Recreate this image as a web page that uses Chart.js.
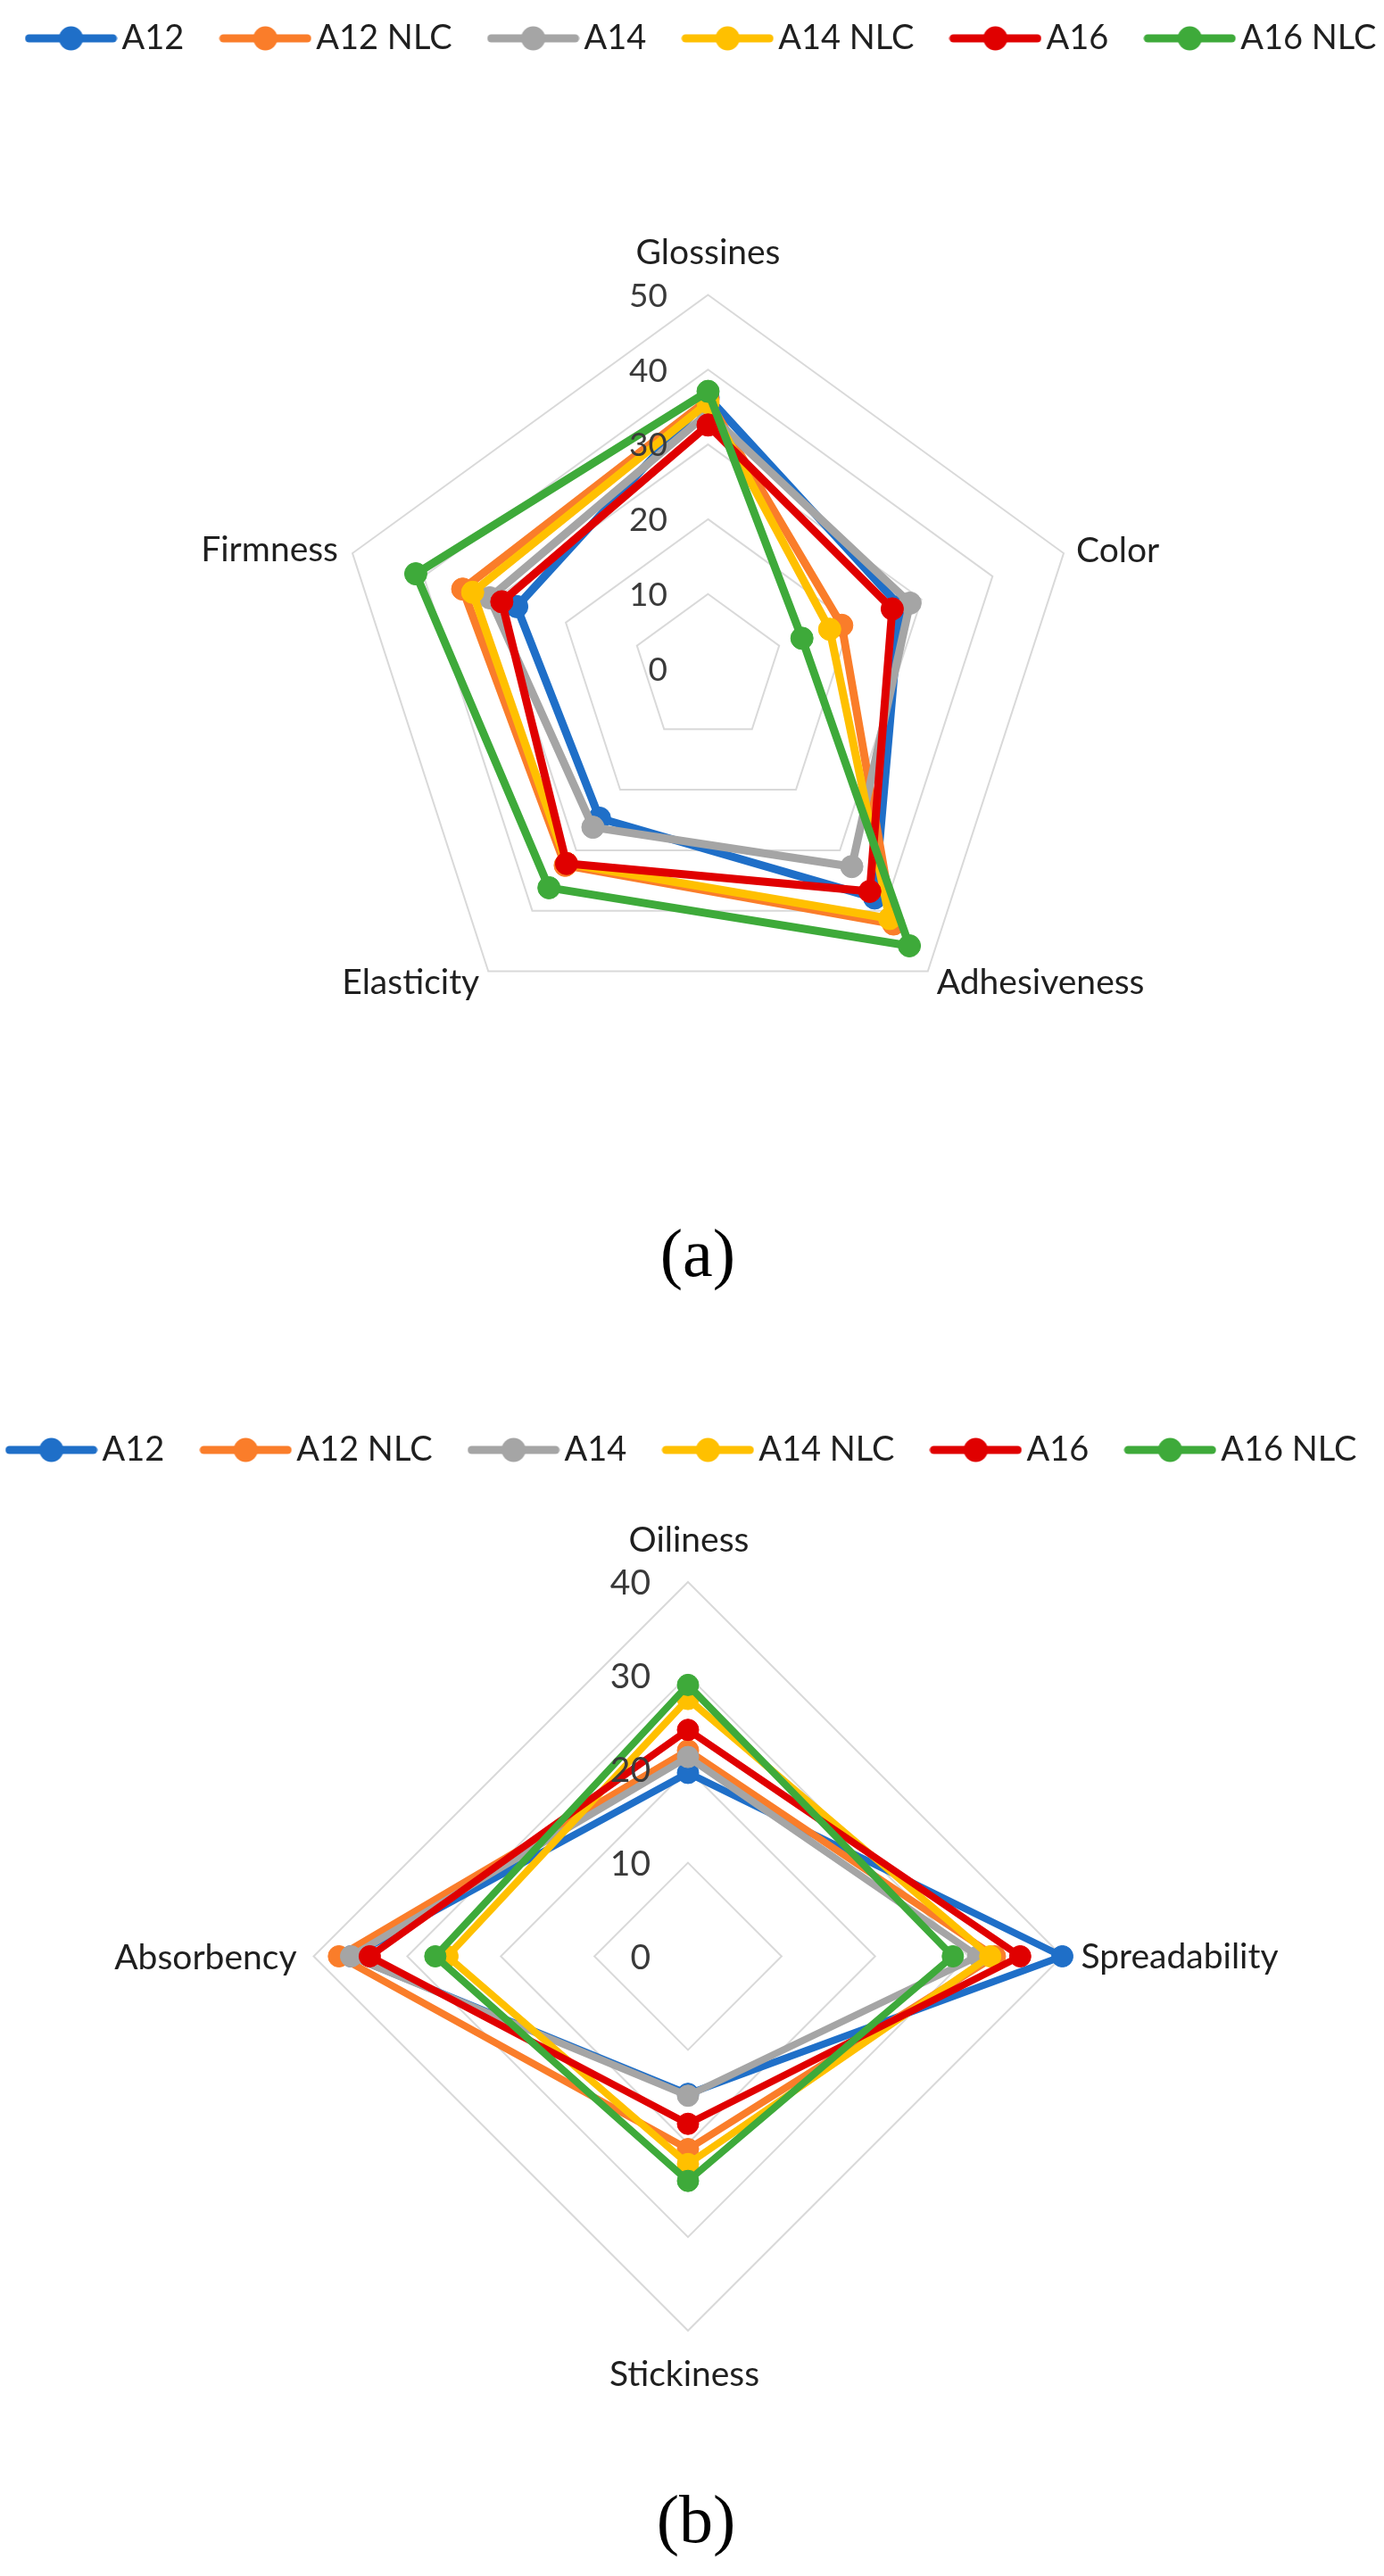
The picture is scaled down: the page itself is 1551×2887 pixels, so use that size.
<!DOCTYPE html>
<html>
<head>
<meta charset="utf-8">
<script src="https://cdn.jsdelivr.net/npm/chart.js@4.4.1/dist/chart.umd.min.js"></script>
<style>
  html, body { margin:0; padding:0; background:#ffffff; }
  body { width:1551px; height:2887px; overflow:hidden; position:relative; }
  canvas { position:absolute; }
  .cap { position:absolute; width:400px; text-align:center; font-family:"Liberation Serif", "DejaVu Serif", serif; font-size:76px; line-height:76px; color:#000; }
</style>
</head>
<body>
<canvas id="c1" width="1700" height="1250"></canvas>
<canvas id="c2" width="1700" height="1334"></canvas>
<div class="cap" id="capA">(a)</div>
<div class="cap" id="capB">(b)</div>
<script>
// ---------------- DATA ----------------
const seriesNames = ['A12', 'A12 NLC', 'A14', 'A14 NLC', 'A16', 'A16 NLC'];
const seriesColors = ['#1F6FC8', '#FA7D2A', '#A5A5A5', '#FFC000', '#E00000', '#3EAA3A'];

// Chart (a)
const categoriesA = ['Glossines', 'Color', 'Adhesiveness', 'Elasticity', 'Firmness'];
const a_A12    = [36.3, 27.0, 37.9, 24.7, 26.9];
const a_A12NLC = [36.0, 18.8, 42.2, 32.5, 34.5];
const a_A14    = [34.2, 28.4, 32.7, 26.2, 30.7];
const a_A14NLC = [35.6, 17.1, 41.3, 32.2, 33.1];
const a_A16    = [32.6, 25.9, 36.8, 32.2, 29.0];
const a_A16NLC = [37.1, 13.2, 45.8, 36.2, 41.1];
const ticksA = [0, 10, 20, 30, 40, 50];

// Chart (b)
const categoriesB = ['Oiliness', 'Spreadability', 'Stickiness', 'Absorbency'];
const b_A12    = [19.6, 40.0, 14.7, 36.0];
const b_A12NLC = [22.0, 32.8, 20.6, 37.3];
const b_A14    = [21.3, 31.0, 14.9, 36.0];
const b_A14NLC = [27.5, 32.3, 22.2, 25.7];
const b_A16    = [24.2, 35.5, 17.9, 34.0];
const b_A16NLC = [29.0, 28.3, 24.0, 27.0];
const ticksB = [0, 10, 20, 30, 40];

// ---------------- LAYOUT / STYLE ----------------
const layoutA = {
  canvasLeft: -58, canvasTop: -29,
  cx: 793.5, cy: 749.5, radius: 419,
  lineWidth: 9, pointRadius: 12.5,
  tickFont: '37px Lato', tickDx: -45.5, tickDy: 13.3,
  labelFont: '39px Lato',
  labelPos: [
    {align: 'center', dx: 0, dy: -34.5},
    {align: 'left', dx: 14, dy: 9.5},
    {align: 'left', dx: 10, dy: 26},
    {align: 'right', dx: -10, dy: 26},
    {align: 'right', dx: -16, dy: 9}
  ]
};
const layoutB = {
  canvasLeft: -80, canvasTop: 1553,
  cx: 771, cy: 2192.5, radius: 419.5,
  lineWidth: 8, pointRadius: 12,
  tickFont: '39px Lato', tickDx: -42, tickDy: 14,
  labelFont: '39px Lato',
  labelPos: [
    {align: 'center', dx: 1, dy: -34.5},
    {align: 'left', dx: 21, dy: 13.6},
    {align: 'center', dx: -4, dy: 62},
    {align: 'right', dx: -19, dy: 14}
  ]
};

function legendImage(color) {
  const c = document.createElement('canvas');
  c.width = 104; c.height = 30;
  const g = c.getContext('2d');
  g.strokeStyle = color; g.lineWidth = 9; g.lineCap = 'round';
  g.beginPath(); g.moveTo(5, 15); g.lineTo(99, 15); g.stroke();
  g.fillStyle = color;
  g.beginPath(); g.arc(52, 15, 13.5, 0, Math.PI * 2); g.fill();
  return c;
}

const radarPlugin = {
  id: 'radarGeom',
  afterLayout(chart, args, opts) {
    const s = chart.scales.r;
    s.xCenter = opts.cx; s.yCenter = opts.cy; s.drawingArea = opts.radius;
  },
  afterDatasetsDraw(chart, args, opts) {
    const s = chart.scales.r, ctx = chart.ctx;
    ctx.save();
    ctx.font = opts.tickFont; ctx.fillStyle = '#3a3a3a';
    ctx.textAlign = 'right'; ctx.textBaseline = 'alphabetic';
    s.ticks.forEach(t => {
      const d = s.getDistanceFromCenterForValue(t.value);
      ctx.fillText(String(t.label), s.xCenter + opts.tickDx, s.yCenter - d + opts.tickDy);
    });
    ctx.font = opts.labelFont; ctx.fillStyle = '#1f1f1f';
    chart.data.labels.forEach((lab, i) => {
      const p = s.getPointPosition(i, s.drawingArea);
      const o = opts.labelPos[i];
      ctx.textAlign = o.align;
      ctx.fillText(lab, p.x + o.dx, p.y + o.dy);
    });
    ctx.restore();
  }
};

function makeChart(id, layout, categories, seriesData, ticks) {
  const canvas = document.getElementById(id);
  canvas.style.left = layout.canvasLeft + 'px';
  canvas.style.top = layout.canvasTop + 'px';
  const n = seriesData.length;
  const datasets = seriesData.map((vals, i) => ({
    label: seriesNames[i],
    data: vals,
    borderColor: seriesColors[i],
    backgroundColor: seriesColors[i],
    pointBackgroundColor: seriesColors[i],
    pointBorderColor: seriesColors[i],
    borderWidth: layout.lineWidth,
    pointRadius: layout.pointRadius,
    pointBorderWidth: 1,
    borderJoinStyle: 'round',
    fill: false,
    tension: 0,
    order: n - 1 - i
  }));
  const images = seriesColors.map(legendImage);
  return new Chart(canvas, {
    type: 'radar',
    data: { labels: categories, datasets },
    options: {
      responsive: false,
      animation: false,
      devicePixelRatio: 1,
      layout: { padding: 0 },
      scales: {
        r: {
          min: ticks[0],
          max: ticks[ticks.length - 1],
          ticks: { stepSize: ticks[1] - ticks[0], display: false },
          grid: { color: '#D9D9D9', lineWidth: 2 },
          angleLines: { display: false },
          pointLabels: { display: false }
        }
      },
      plugins: {
        tooltip: { enabled: false },
        legend: {
          position: 'top',
          labels: {
            usePointStyle: true,
            pointStyleWidth: 76,
            padding: 53,
            color: '#1f1f1f',
            font: { family: 'Lato', size: 38 },
            generateLabels: (chart) => chart.data.datasets.map((ds, i) => ({
              text: ds.label,
              fillStyle: ds.borderColor,
              strokeStyle: ds.borderColor,
              lineWidth: 0,
              pointStyle: images[i],
              hidden: false,
              datasetIndex: i,
              fontColor: '#1f1f1f'
            }))
          }
        },
        radarGeom: {
          cx: layout.cx - layout.canvasLeft,
          cy: layout.cy - layout.canvasTop,
          radius: layout.radius,
          tickFont: layout.tickFont, tickDx: layout.tickDx, tickDy: layout.tickDy,
          labelFont: layout.labelFont, labelPos: layout.labelPos
        }
      }
    },
    plugins: [radarPlugin]
  });
}

function placeCaption(id, centerX, baselineY) {
  const el = document.getElementById(id);
  el.style.left = (centerX - 200) + 'px';
  el.style.top = (baselineY - 63.7) + 'px';
}

function drawAll() {
  makeChart('c1', layoutA, categoriesA, [a_A12, a_A12NLC, a_A14, a_A14NLC, a_A16, a_A16NLC], ticksA);
  makeChart('c2', layoutB, categoriesB, [b_A12, b_A12NLC, b_A14, b_A14NLC, b_A16, b_A16NLC], ticksB);
  placeCaption('capA', 782, 1430);
  placeCaption('capB', 780, 2849);
}

if (document.fonts && document.fonts.load) {
  Promise.all([document.fonts.load('38px Lato'), document.fonts.load('76px "Liberation Serif"')])
    .then(drawAll, drawAll);
} else {
  drawAll();
}
</script>
</body>
</html>
